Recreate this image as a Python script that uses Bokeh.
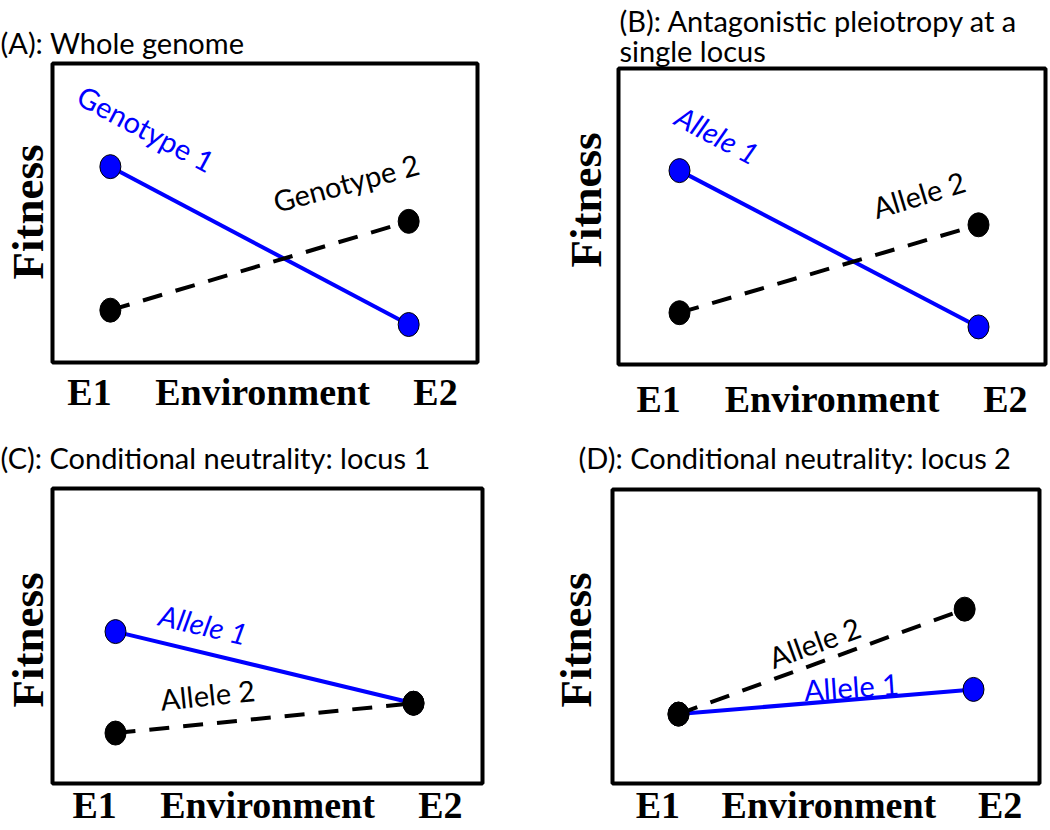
from bokeh.plotting import figure
from bokeh.layouts import column, row
from bokeh.models import FixedTicker, Range1d, ColumnDataSource, Title
from bokeh.core.properties import value
from bokeh.embed import file_html
from bokeh.resources import INLINE

# ---------------- data ----------------
env_x = [1, 2]                      # E1, E2
axis_tick_labels = ["E1", "Environment", "E2"]
y_label = "Fitness"

A_genotype1 = [6.55, 1.27]
A_genotype2 = [1.75, 4.72]
B_allele1 = [6.55, 1.27]
B_allele2 = [1.75, 4.72]
C_allele1 = [5.15, 2.72]
C_allele2 = [1.71, 2.72]
D_allele1 = [2.36, 3.20]
D_allele2 = [2.36, 5.93]
D_allele2_x = [1, 1.97]

titles = [
    "(A): Whole genome",
    "(B): Antagonistic pleiotropy at a\nsingle locus",
    "(C): Conditional neutrality: locus 1",
    "(D): Conditional neutrality: locus 2",
]

# ---------------- styles / layout ----------------
BLUE = "#0000FF"
SANS = "Lato"
SERIF = "Liberation Serif"
TICK_POS = [0.93, 1.51, 2.09]
DASH = "20 14"

panels = [
    dict(title=titles[0], w=530, h=422, left=51, top=63, fw=426, fh=299, e1=58, scale=299,
         t_off=-52, t_stand=8, t_lh=1.0, fit_off=83, fit_stand=0, lab_stand=8,
         series=[(env_x, A_genotype1, BLUE, None), (env_x, A_genotype2, "black", DASH)],
         labels=[("Genotype 1", 1.12, 7.83, -28, BLUE, "normal"),
                 ("Genotype 2", 1.79, 6.02, 15, "black", "normal")]),
    dict(title=titles[1], w=518, h=422, left=88, top=68, fw=427, fh=299, e1=61, scale=299,
         t_off=1, t_stand=1, t_lh=0.85, fit_off=97, fit_stand=16, lab_stand=13,
         series=[(env_x, B_allele1, BLUE, None), (env_x, B_allele2, "black", DASH)],
         labels=[("Allele 1", 1.127, 7.76, -28, BLUE, "italic"),
                 ("Allele 2", 1.80, 5.75, 17, "black", "normal")]),
    dict(title=titles[2], w=530, h=406, left=52, top=66, fw=430, fh=298, e1=63, scale=298,
         t_off=-52, t_stand=28, t_lh=1.0, fit_off=76, fit_stand=0, lab_stand=0,
         series=[(env_x, C_allele1, BLUE, None), (env_x, C_allele2, "black", DASH)],
         labels=[("Allele 1", 1.295, 5.40, -13, BLUE, "italic"),
                 ("Allele 2", 1.309, 3.02, 6, "black", "normal")]),
    dict(title=titles[3], w=518, h=406, left=82, top=67, fw=427, fh=297, e1=66, scale=295,
         t_off=-34, t_stand=30, t_lh=1.0, fit_off=76, fit_stand=24, lab_stand=0,
         series=[(env_x, D_allele1, BLUE, None), (D_allele2_x, D_allele2, "black", DASH)],
         labels=[("Allele 2", 1.461, 4.81, 20, "black", "normal"),
                 ("Allele 1", 1.586, 3.30, 4, BLUE, "normal")]),
]


def make_panel(cfg):
    start = 1 - cfg["e1"] / cfg["scale"]
    end = start + cfg["fw"] / cfg["scale"]
    p = figure(width=cfg["w"], height=cfg["h"],
               x_range=Range1d(start, end), y_range=Range1d(0, 10),
               y_axis_location=None,
               output_backend="svg", toolbar_location=None,
               min_border_left=cfg["left"],
               min_border_right=cfg["w"] - cfg["left"] - cfg["fw"],
               min_border_top=cfg["top"],
               min_border_bottom=cfg["h"] - cfg["top"] - cfg["fh"])
    p.background_fill_color = "white"
    p.border_fill_color = "white"
    p.outline_line_color = "black"
    p.outline_line_width = 4
    p.outline_line_alpha = 1.0
    p.xgrid.visible = False
    p.ygrid.visible = False

    # title
    p.title.text = cfg["title"]
    p.title.align = "left"
    p.title.offset = cfg["t_off"]
    p.title.standoff = cfg["t_stand"]
    p.title.text_font = SANS
    p.title.text_font_size = "29px"
    p.title.text_font_style = "normal"
    p.title.text_color = "black"
    p.title.text_line_height = cfg["t_lh"]

    # y axis title "Fitness" (left side)
    p.add_layout(Title(text=y_label, align="left", offset=cfg["fit_off"],
                       standoff=cfg["fit_stand"], text_font=SERIF, text_font_size="45px",
                       text_font_style="bold", text_color="black"), "left")

    # x axis: E1 / Environment / E2
    ax = p.xaxis[0]
    ax.ticker = FixedTicker(ticks=TICK_POS, minor_ticks=[])
    ax.major_label_overrides = {t: lab for t, lab in zip(TICK_POS, axis_tick_labels)}
    ax.axis_line_color = None
    ax.major_tick_line_color = None
    ax.minor_tick_line_color = None
    ax.major_tick_out = 0
    ax.major_tick_in = 0
    ax.major_label_standoff = cfg["lab_stand"]
    ax.major_label_text_font = SERIF
    ax.major_label_text_font_size = "38px"
    ax.major_label_text_font_style = "bold"
    ax.major_label_text_color = "black"

    # series: lines then markers (black series drawn on top)
    for xs, ys, color, dash in cfg["series"]:
        if dash:
            p.line(xs, ys, line_color=color, line_width=4, line_dash=dash)
        else:
            p.line(xs, ys, line_color=color, line_width=4)
        p.ellipse(xs, ys, width=21, height=24, width_units="screen", height_units="screen",
                  fill_color=color, line_color="black", line_width=1)

    # in-plot line labels
    txt, lx, ly, ang, col, sty = zip(*cfg["labels"])
    src = ColumnDataSource(dict(text=list(txt), x=list(lx), y=list(ly), angle=list(ang),
                                color=list(col), style=list(sty)))
    p.text(x="x", y="y", text="text", angle="angle", angle_units="deg", source=src,
           text_color="color", text_font_style="style", text_font=value(SANS),
           text_font_size=value("29px"), text_align="center", text_baseline="middle")
    return p


figs = [make_panel(c) for c in panels]
# each plot wrapped on its own so that frames are not aligned with each other
layout = row(column(row(figs[0]), row(figs[2])), column(row(figs[1]), row(figs[3])))

open("out.html", "w").write(file_html(layout, INLINE))
